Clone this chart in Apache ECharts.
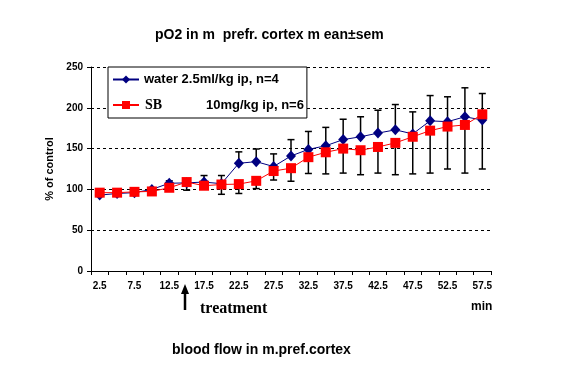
<!DOCTYPE html>
<html>
<head>
<meta charset="utf-8">
<script src="https://cdn.jsdelivr.net/npm/echarts@6/dist/echarts.min.js"></script>
<style>html,body{margin:0;padding:0;background:#fff}#c{width:586px;height:370px}</style>
</head>
<body>
<div id="c"></div>
<script>
const categories = ['2.5','5','7.5','10','12.5','15','17.5','20','22.5','25','27.5','30','32.5','35','37.5','40','42.5','45','47.5','50','52.5','55','57.5'];
const water = [93, 95, 96, 100, 107.5, 108, 109, 107, 132, 134, 128, 141, 149, 153.5, 161, 164.5, 169, 173, 168, 184, 183, 189, 185];
const waterErr = [2, 2, 2, 2, 3, 4, 8, 10, 14, 15.5, 15.5, 20, 22, 22.5, 25, 24.5, 28, 31, 27, 31, 30.5, 35.5, 32.5];
const sb = [96, 96, 97, 97.5, 102, 109, 104.5, 106, 106.5, 110.5, 122.5, 126, 139.5, 145.5, 150, 148, 152, 157, 164.5, 172, 177, 179, 192];
const sbErr = [2, 2, 2, 2, 3, 10, 3, 12, 11.5, 9.5, 11, 16, 20, 26.5, 30, 30, 32, 39, 45.5, 52, 52, 59, 67];
const yTicks = [0, 50, 100, 150, 200, 250];

const WATER_NAME = 'water 2.5ml/kg ip, n=4';
const SB_NAME = 'SB';

function errRender(dir) {
  return function (params, api) {
    const i = api.value(0), v = api.value(1), e = api.value(2);
    const p0 = api.coord([i, v]);
    const p1 = api.coord([i, v + dir * e]);
    const w = 3.5;
    const st = { stroke: '#000', lineWidth: 1.5 };
    return { type: 'group', children: [
      { type: 'line', shape: { x1: p0[0], y1: p0[1], x2: p1[0], y2: p1[1] }, style: st },
      { type: 'line', shape: { x1: p1[0] - w, y1: p1[1], x2: p1[0] + w, y2: p1[1] }, style: st }
    ]};
  };
}

const chart = echarts.init(document.getElementById('c'), null, { renderer: 'canvas' });
const bold = { fontFamily: 'Arial, Liberation Sans, sans-serif', fontWeight: 'bold', color: '#000' };

chart.setOption({
  backgroundColor: '#fff',
  animation: false,
  title: {
    text: 'pO2 in m  prefr. cortex m ean±sem',
    left: 150, top: 23,
    textStyle: Object.assign({ fontSize: 14 }, bold)
  },
  grid: { left: 91, right: 95, top: 67, bottom: 99 },
  legend: {
    data: [WATER_NAME, SB_NAME],
    orient: 'vertical',
    left: 108, top: 67,
    itemWidth: 26, itemHeight: 10, itemGap: 12,
    padding: [6, 3, 6, 4],
    borderColor: '#000', borderWidth: 1, borderRadius: 0,
    backgroundColor: '#fff',
    formatter: function (name) {
      return name === SB_NAME ? '{sb|SB}{d|10mg/kg ip, n=6}' : '{w|' + name + '}';
    },
    textStyle: {
      rich: {
        w: Object.assign({ fontSize: 13, width: 159 }, bold),
        sb: { fontFamily: 'Liberation Serif, Times New Roman, serif', fontWeight: 'bold', fontSize: 14, color: '#000', width: 61, padding: [0, 0, 0, 1] },
        d: Object.assign({ fontSize: 13 }, bold)
      }
    }
  },
  xAxis: {
    type: 'category',
    data: categories,
    boundaryGap: true,
    axisLine: { lineStyle: { color: '#000', width: 1 } },
    axisTick: { show: true, interval: 0, length: 4, lineStyle: { color: '#000' } },
    axisLabel: Object.assign({ interval: 1, fontSize: 10, margin: 10 }, bold),
    splitLine: { show: false }
  },
  yAxis: {
    type: 'value',
    min: yTicks[0], max: yTicks[yTicks.length - 1], interval: 50,
    name: '% of control',
    nameLocation: 'middle',
    nameRotate: 90,
    nameGap: 27,
    nameTextStyle: Object.assign({ fontSize: 11 }, bold),
    axisLine: { show: true, lineStyle: { color: '#000', width: 1 } },
    axisTick: { show: true, length: 4, lineStyle: { color: '#000' } },
    axisLabel: Object.assign({ fontSize: 10, margin: 8 }, bold),
    splitLine: { show: true, lineStyle: { color: '#000', type: [3, 3], width: 1 } }
  },
  series: [
    {
      type: 'custom', name: 'waterErr', z: 1, silent: true,
      renderItem: errRender(1),
      encode: { x: 0, y: 1 },
      data: water.map((v, i) => [i, v, waterErr[i]])
    },
    {
      type: 'custom', name: 'sbErr', z: 1, silent: true,
      renderItem: errRender(-1),
      encode: { x: 0, y: 1 },
      data: sb.map((v, i) => [i, v, sbErr[i]])
    },
    {
      type: 'line', name: WATER_NAME, z: 3,
      data: water,
      symbol: 'diamond', symbolSize: [10, 11],
      lineStyle: { color: '#000080', width: 1 },
      itemStyle: { color: '#000080' }
    },
    {
      type: 'line', name: SB_NAME, z: 4,
      data: sb,
      symbol: 'rect', symbolSize: 10,
      lineStyle: { color: '#ff0000', width: 1 },
      itemStyle: { color: '#ff0000' }
    }
  ],
  graphic: [
    { type: 'line', shape: { x1: 185, y1: 310, x2: 185, y2: 292 }, style: { stroke: '#000', lineWidth: 2.5 } },
    { type: 'polygon', shape: { points: [[185, 284], [181, 294], [189, 294]] }, style: { fill: '#000' } },
    { type: 'text', left: 200, top: 301, style: { text: 'treatment', font: 'bold 16px "Liberation Serif", "Times New Roman", serif', fill: '#000' } },
    { type: 'text', left: 471, top: 301, style: { text: 'min', font: 'bold 12px Arial, "Liberation Sans", sans-serif', fill: '#000' } },
    { type: 'text', left: 172, top: 343, style: { text: 'blood flow in m.pref.cortex', font: 'bold 14px Arial, "Liberation Sans", sans-serif', fill: '#000' } }
  ]
});
</script>
</body>
</html>
